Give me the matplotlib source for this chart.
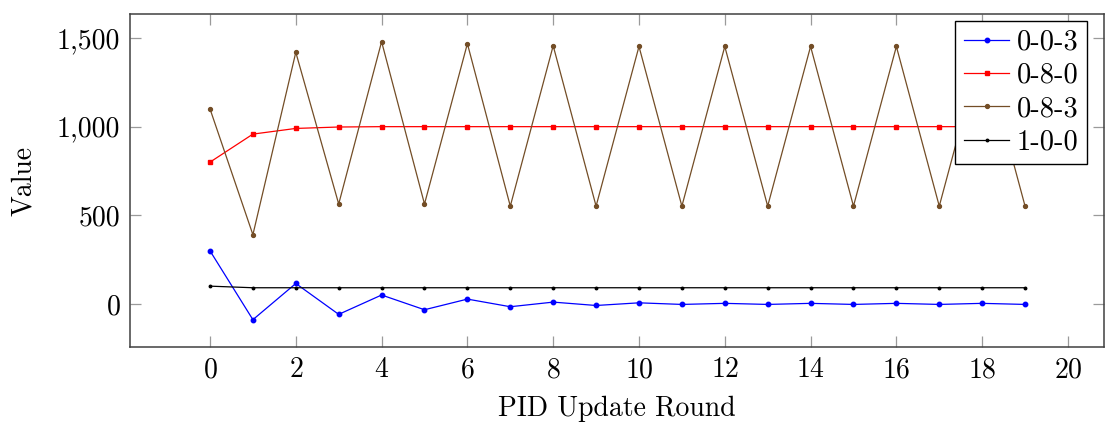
import matplotlib
matplotlib.use("Agg")
import matplotlib.pyplot as plt
from matplotlib.ticker import FuncFormatter, FixedLocator

plt.rcParams["font.family"] = ["cmr10", "DejaVu Serif"]
plt.rcParams["axes.formatter.use_mathtext"] = True
plt.rcParams["font.size"] = 20

rounds = list(range(20))

series_labels = ["0-0-3", "0-8-0", "0-8-3", "1-0-0"]

pid_003 = [300, -88, 116, -58, 51, -32, 28, -15, 11, -8, 7, -2, 4, -2, 4, -2, 4, -2, 4, -2]
pid_080 = [800, 958, 990, 998, 1000, 1000, 1000, 1000, 1000, 1000,
           1000, 1000, 1000, 1000, 1000, 1000, 1000, 1000, 1000, 1000]
pid_083 = [1100, 391, 1419, 564, 1479, 564, 1468, 552, 1456, 552,
           1452, 552, 1452, 552, 1452, 552, 1452, 552, 1452, 552]
pid_100 = [101, 92, 92, 92, 92, 92, 92, 92, 92, 92,
           92, 92, 92, 92, 92, 92, 92, 92, 92, 92]

x_ticks = list(range(0, 21, 2))
y_ticks = [0, 500, 1000, 1500]

fig = plt.figure(figsize=(11.05, 4.22), dpi=100)
ax = fig.add_axes([130 / 1105, 75 / 422, 974 / 1105, 333 / 422])

styles = [
    dict(color="#0000ff", marker="o", markersize=3.2),
    dict(color="#ff0000", marker="s", markersize=3.2),
    dict(color="#734d26", marker="o", markersize=2.8),
    dict(color="#000000", marker="o", markersize=1.8),
]
for values, label, st in zip([pid_003, pid_080, pid_083, pid_100], series_labels, styles):
    ax.plot(rounds, values, label=label, linewidth=0.9, **st)

ax.set_xlim(-1.865, 20.84)
ax.set_ylim(-242, 1635)
ax.xaxis.set_major_locator(FixedLocator(x_ticks))
ax.yaxis.set_major_locator(FixedLocator(y_ticks))
ax.yaxis.set_major_formatter(FuncFormatter(lambda v, p: f"{int(v):,}"))

ax.tick_params(direction="in", length=8, width=0.9, color="#9a9a9a",
               top=True, right=True, labelsize=20, pad=7)
for sp in ax.spines.values():
    sp.set_color("#404040")
    sp.set_linewidth(1.1)

ax.set_xlabel("PID Update Round", fontsize=20, labelpad=9)
ax.set_ylabel("Value", fontsize=20, labelpad=14)

leg = ax.legend(loc="upper right", bbox_to_anchor=(0.9823, 0.98), borderaxespad=0,
                fancybox=False, framealpha=1, edgecolor="#000000",
                handlelength=1.6, handletextpad=0.25, labelspacing=0.25,
                borderpad=0.3, fontsize=20.5)
leg.get_frame().set_linewidth(1.0)

fig.savefig("out.png", dpi=100)
